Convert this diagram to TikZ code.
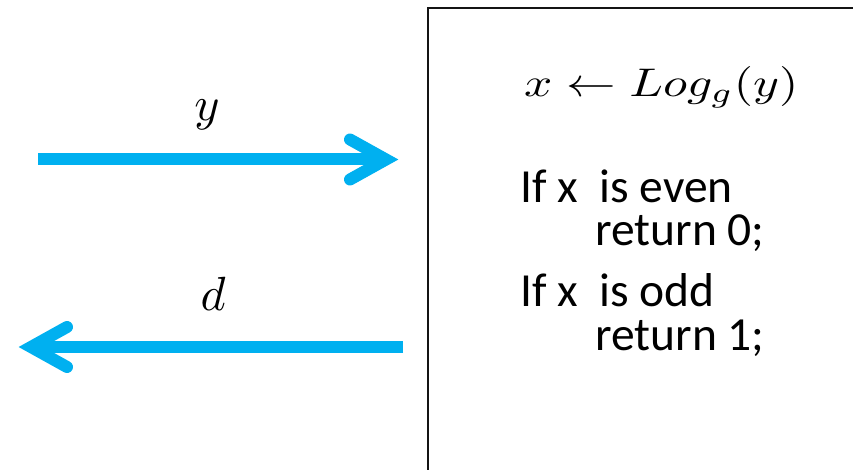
\documentclass[tikz,border=0pt]{standalone}
\usepackage{fontspec}
\setmainfont{Carlito}
\definecolor{flowcyan}{RGB}{0,176,240}
\definecolor{boxline}{RGB}{20,20,20}
\begin{document}
\begin{tikzpicture}[x=1pt,y=-1pt,
  shaft/.style={draw=flowcyan, line width=12pt, line cap=butt},
  chevron/.style={draw=flowcyan, line width=12pt, line cap=round, line join=miter},
  codeline/.style={anchor=base west, inner sep=0pt, font=\fontsize{47.5}{47.5}\selectfont},
  lbl/.style={anchor=base, inner sep=0pt},
  frame/.style={draw=boxline, line width=2.4pt, anchor=north west, minimum width=600pt, minimum height=600pt, inner sep=0pt}]
\useasboundingbox (0,0) rectangle (853,470);
\clip (0,0) rectangle (853,470);
% box
\node[frame] (box) at (426.5,7) {};
% arrow to the box
\coordinate (a1s) at (38,159.5);
\coordinate (a1v) at (386,159.5);
\coordinate (a1u) at (350,139.5);
\coordinate (a1d) at (350,179.5);
\draw[shaft] (a1s) -- (a1v);
\draw[chevron] (a1u) -- (a1v) -- (a1d);
% arrow from the box
\coordinate (a2s) at (403,347);
\coordinate (a2v) at (31,347);
\coordinate (a2u) at (67,327);
\coordinate (a2d) at (67,367);
\draw[shaft] (a2s) -- (a2v);
\draw[chevron] (a2u) -- (a2v) -- (a2d);
% labels
\node[lbl] (ly) at (207,121) {\scalebox{4.8}{$y$}};
\node[lbl] (ld) at (213,310) {\scalebox{4.8}{$d$}};
% formula
\node[anchor=base west, inner sep=0pt] (f) at (524,97) {\scalebox{4.95}[4.0]{$x \leftarrow Log_g(y)$}};
% code
\node[codeline] (c1) at (520,203) {If x\ \ is even};
\node[codeline] (c2) at (595,245.5) {return 0;};
\node[codeline] (c3) at (520,306) {If x\ \ is odd};
\node[codeline] (c4) at (595,350) {return 1;};
\end{tikzpicture}
\end{document}
